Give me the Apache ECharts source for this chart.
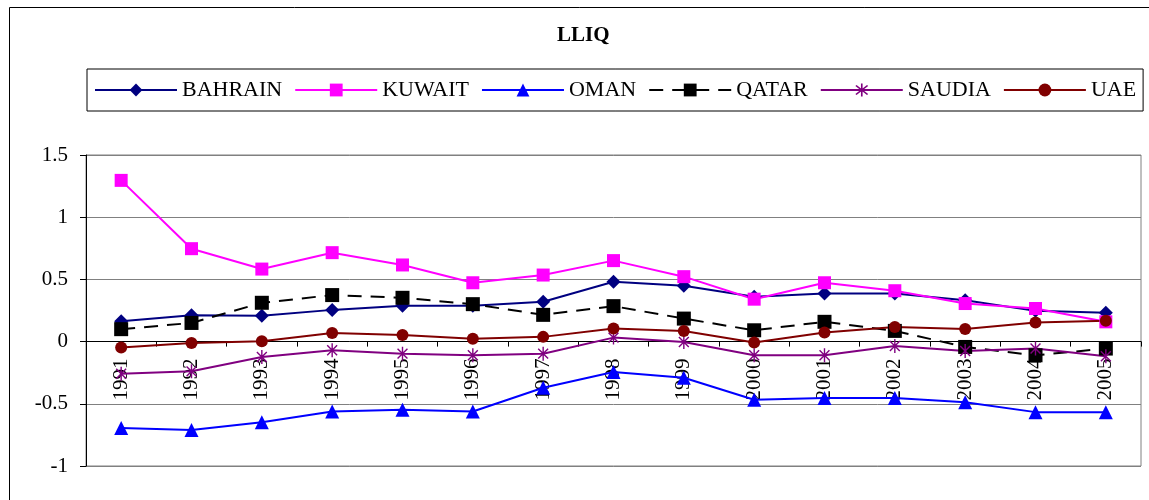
<!DOCTYPE html>
<html>
<head>
<meta charset="utf-8">
<script src="https://cdn.jsdelivr.net/npm/echarts@6/dist/echarts.min.js"></script>
<style>
  html, body { margin: 0; padding: 0; background: #fff; }
  #chart { width: 1149px; height: 500px; }
</style>
</head>
<body>
<div id="chart"></div>
<script>
// years on the x axis
const years = ['1991', '1992', '1993', '1994', '1995', '1996', '1997', '1998',
  '1999', '2000', '2001', '2002', '2003', '2004', '2005'];

// LLIQ values
const bahrain = [0.164, 0.212, 0.207, 0.255, 0.288, 0.288, 0.32, 0.481, 0.449, 0.36, 0.387, 0.387, 0.333, 0.247, 0.231];
const kuwait  = [1.296, 0.747, 0.583, 0.715, 0.616, 0.473, 0.535, 0.651, 0.522, 0.341, 0.473, 0.409, 0.306, 0.266, 0.159];
const oman    = [-0.694, -0.71, -0.648, -0.562, -0.548, -0.562, -0.371, -0.245, -0.29, -0.468, -0.454, -0.454, -0.487, -0.567, -0.567];
const qatar   = [0.1, 0.15, 0.312, 0.374, 0.352, 0.301, 0.215, 0.285, 0.185, 0.091, 0.159, 0.086, -0.043, -0.11, -0.056];
const saudia  = [-0.258, -0.239, -0.124, -0.07, -0.097, -0.11, -0.097, 0.032, -0.003, -0.11, -0.11, -0.035, -0.075, -0.056, -0.118];
const uae     = [-0.048, -0.011, 0.003, 0.07, 0.054, 0.022, 0.038, 0.105, 0.086, -0.008, 0.073, 0.118, 0.102, 0.153, 0.167];

const FONT = "'Liberation Serif', 'Times New Roman', serif";

// plot area: 155 .. 466 px, y from -1 to 1.5 -> zero sits 124 px above the bottom edge
const PLOT_H = 311;
const Y_MIN = -1, Y_MAX = 1.5;
const zeroOffset = PLOT_H * (0 - Y_MIN) / (Y_MAX - Y_MIN);

// asterisk marker (vertical bar + two diagonals)
const asterisk = 'path://M-1,-10L1,-10L1,10L-1,10Z' +
  'M7.78,6.36L6.36,7.78L-7.78,-6.36L-6.36,-7.78Z' +
  'M-6.36,7.78L-7.78,6.36L6.36,-7.78L7.78,-6.36Z';

const mkSeries = (name, data, color, symbol, size, dashed) => ({
  name: name,
  type: 'line',
  data: data,
  symbol: symbol,
  symbolSize: size,
  symbolKeepAspect: true,
  showAllSymbol: true,
  itemStyle: { color: color, borderWidth: 0 },
  lineStyle: { color: color, width: 2, type: dashed ? [14, 9] : 'solid' },
  emphasis: { disabled: true },
  animation: false
});

const chart = echarts.init(document.getElementById('chart'));

const option = {
  backgroundColor: '#fff',
  animation: false,
  title: {
    text: 'LLIQ',
    left: 557,
    top: 25,
    padding: 0,
    textStyle: { fontFamily: FONT, fontSize: 21, fontWeight: 'bold', color: '#000' }
  },
  legend: {
    left: 87,
    top: 69,
    padding: [10, 7],
    itemGap: 12,
    itemWidth: 82,
    itemHeight: 16,
    borderColor: '#000',
    borderWidth: 1,
    textStyle: { fontFamily: FONT, fontSize: 22, color: '#000' },
    data: ['BAHRAIN', 'KUWAIT', 'OMAN', 'QATAR', 'SAUDIA', 'UAE']
  },
  grid: {
    left: 86,
    right: 8,
    top: 155,
    height: PLOT_H,
    show: true,
    borderColor: '#808080',
    borderWidth: 1,
    containLabel: false,
    outerBoundsMode: 'none'
  },
  xAxis: {
    type: 'category',
    data: years,
    boundaryGap: true,
    position: 'bottom',
    offset: -zeroOffset,
    axisLine: { onZero: false, lineStyle: { color: '#000', width: 1 } },
    axisTick: { show: true, inside: false, length: 5, lineStyle: { color: '#000' } },
    axisLabel: {
      rotate: 90,
      margin: 17,
      interval: 0,
      fontFamily: FONT,
      fontSize: 21,
      color: '#000'
    },
    splitLine: { show: false }
  },
  yAxis: {
    type: 'value',
    min: Y_MIN,
    max: Y_MAX,
    interval: 0.5,
    axisLine: { show: true, lineStyle: { color: '#000', width: 1 } },
    axisTick: { show: true, length: 6, lineStyle: { color: '#000' } },
    axisLabel: { margin: 18, fontFamily: FONT, fontSize: 21, color: '#000' },
    splitLine: { show: true, lineStyle: { color: '#808080', width: 1 } }
  },
  graphic: [{
    type: 'rect',
    shape: { x: 9.5, y: 7.5, width: 1200, height: 600 },
    style: { fill: 'none', stroke: '#000', lineWidth: 1 },
    silent: true,
    z: -10
  }],
  series: [
    mkSeries('BAHRAIN', bahrain, '#000080', 'diamond', 14, false),
    mkSeries('KUWAIT', kuwait, '#FF00FF', 'rect', 13, false),
    mkSeries('OMAN', oman, '#0000FF', 'triangle', 14, false),
    mkSeries('QATAR', qatar, '#000000', 'rect', 14, true),
    mkSeries('SAUDIA', saudia, '#800080', asterisk, 14, false),
    mkSeries('UAE', uae, '#800000', 'circle', 12, false)
  ]
};

chart.setOption(option);
window.addEventListener('resize', function () {
  chart.resize();
});
</script>
</body>
</html>
